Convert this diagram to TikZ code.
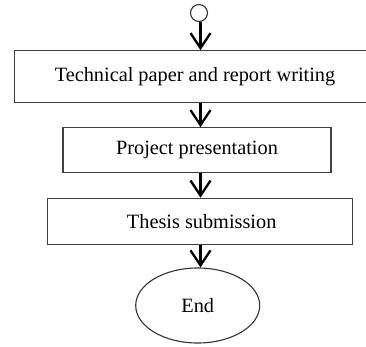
\documentclass[tikz,border=0pt]{standalone}
\usepackage{fontspec}
\setmainfont{Liberation Serif}
\usetikzlibrary{arrows.meta,shapes.geometric}
\begin{document}
\begin{tikzpicture}[x=1pt,y=-1pt,
  box/.style={draw=black!75,line width=1.1pt,rectangle,inner sep=0pt,font=\fontsize{20.3}{24}\selectfont},
  arr/.style={line width=2.3pt,-{Straight Barb[length=15pt,width=20pt,line width=2.3pt]}},
]
\useasboundingbox (0,0) rectangle (366,347);
\clip (0,0) rectangle (366,347);
\node[draw=black!80,line width=1.1pt,circle,minimum size=17pt,inner sep=0pt] (start) at (199,13) {};
\node[box,minimum width=390pt,minimum height=52pt] (box1) at (209.7,76.7) {\hspace*{-29.4pt}Technical paper and report writing};
\node[box,minimum width=268pt,minimum height=44.5pt] (box2) at (197,150) {Project presentation};
\node[box,minimum width=305pt,minimum height=46pt] (box3) at (200.2,221.2) {\hspace*{3pt}Thesis submission};
\node[draw=black!80,line width=1.1pt,ellipse,minimum width=124pt,minimum height=75pt,inner sep=0pt,font=\fontsize{20.3}{24}\selectfont] (end) at (197.7,305.5) {End};
\coordinate (ax) at (200.5,0);
\draw[arr] (start.south -| ax) -- (box1.north -| ax);
\draw[arr] (box1.south -| ax) -- (box2.north -| ax);
\draw[arr] (box2.south -| ax) -- (box3.north -| ax);
\draw[arr] (box3.south -| ax) -- (end.north -| ax);
\end{tikzpicture}
\end{document}
